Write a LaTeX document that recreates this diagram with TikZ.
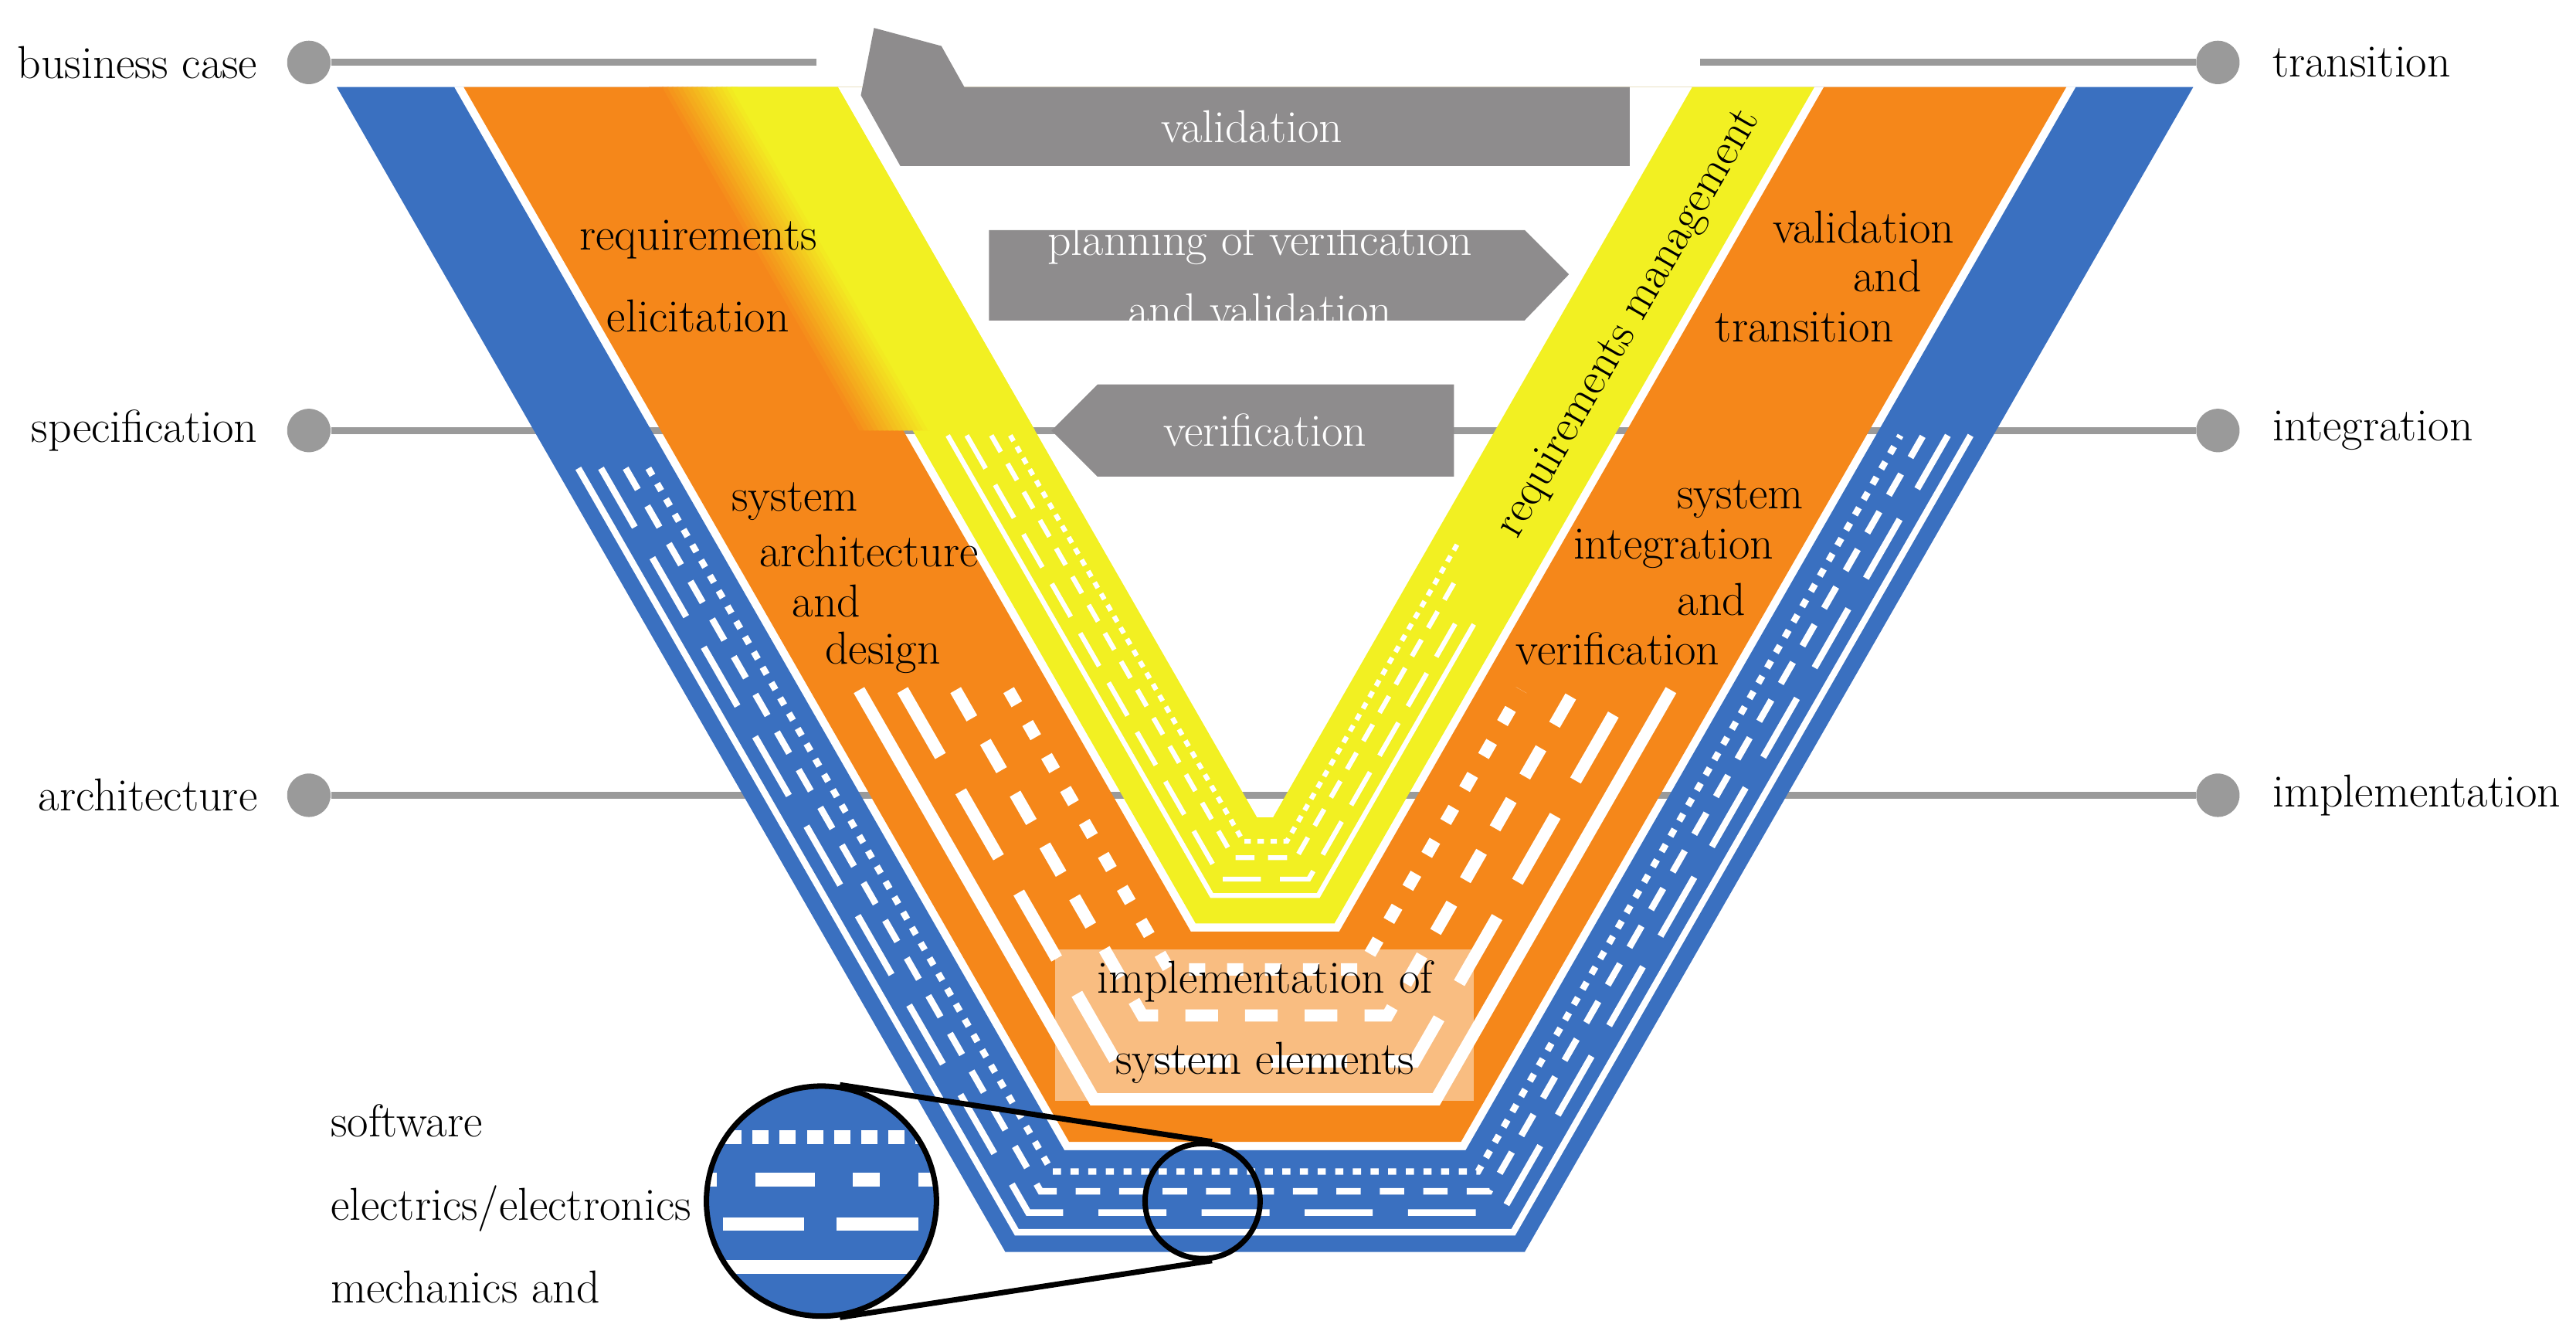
\documentclass[tikz,border=0pt]{standalone}
\begin{document}
\definecolor{vblue}{HTML}{3A70C0}
\definecolor{vorange}{HTML}{F5871A}
\definecolor{vyellow}{HTML}{F2F022}
\definecolor{vgray}{HTML}{8E8C8D}
\definecolor{lgray}{HTML}{9A9A9A}
\newcommand\Vco[2]{%
 \pgfmathsetmacro\xL{205+1.153*#2}\pgfmathsetmacro\xb{\xL+0.574*(709-#2)}\pgfmathsetmacro\yb{762-#2}%
 \coordinate (#1-1) at (\xL,53);\coordinate (#1-2) at (\xb,\yb);
 \coordinate (#1-3) at ({1540-\xb},\yb);\coordinate (#1-4) at ({1540-\xL},53);}
\newcommand\Vln[4]{%
 \pgfmathsetmacro\xL{205+1.153*#2}\pgfmathsetmacro\xa{\xL+0.574*(#3-53)}%
 \pgfmathsetmacro\xr{1540-\xL-0.574*(#4-53)}\pgfmathsetmacro\xb{\xL+0.574*(709-#2)}\pgfmathsetmacro\yb{762-#2}%
 \draw[#1] (\xa,#3) -- (\xb,\yb) -- ({1540-\xb},\yb) -- (\xr,#4);}
\begin{tikzpicture}[x=0.02127cm,y=-0.02127cm,line join=miter,
  lbl/.style={font=\fontsize{17}{18.2}\selectfont,inner sep=0pt},
  arr/.style={fill=vgray},
  wl/.style={white,line width=2.4pt},
  wo/.style={white,line width=4.5pt},
  wy/.style={white,line width=1.8pt},
  dot/.style={circle,fill=lgray,minimum size=16pt,inner sep=0pt}]
\useasboundingbox (0,0) rectangle (1568,814);
% gray levels
\node[dot] (l1) at (188,38) {}; \node[dot] (r1) at (1350,38) {};
\node[dot] (l2) at (188,262) {}; \node[dot] (r2) at (1350,262) {};
\node[dot] (l3) at (188,484) {}; \node[dot] (r3) at (1350,484) {};
\coordinate (t1) at (497,38); \coordinate (t2) at (1035,38);
\draw[lgray,line width=2.6pt] (l1) -- (t1) (t2) -- (r1) (l2) -- (r2) (l3) -- (r3);
% bands
\Vco{a}{0}\Vco{b}{62}\Vco{c}{67}\Vco{d}{195}\Vco{e}{200}\Vco{f}{264.5}
\fill[vblue,even odd rule] (a-1)--(a-2)--(a-3)--(a-4)--cycle (b-1)--(b-2)--(b-3)--(b-4)--cycle;
\fill[vorange,even odd rule] (c-1)--(c-2)--(c-3)--(c-4)--cycle (d-1)--(d-2)--(d-3)--(d-4)--cycle;
\fill[vyellow,even odd rule] (e-1)--(e-2)--(e-3)--(e-4)--cycle (f-1)--(f-2)--(f-3)--(f-4)--cycle;
% gradient top-left
\fill[vorange] (395,53)--(400,53)--(520,262)--(515,262)--cycle;
\foreach \i in {0,...,15}{
  \pgfmathtruncatemacro\p{100-100*\i/15}
  \fill[vorange!\p!vyellow] ({400+3*\i},53)--({404+3*\i},53)--({524+3*\i},262)--({520+3*\i},262)--cycle;}
\fill[vyellow] (445,53)--(510,53)--(630,262)--(565,262)--cycle;
% blue lines
\Vln{wl}{12}{285}{265}
\Vln{wl,dash pattern=on 25pt off 13pt}{24}{285}{265}
\Vln{wl,dash pattern=on 9pt off 7pt}{37}{285}{265}
\Vln{wl,dash pattern=on 3pt off 3.5pt}{49}{285}{265}
% orange lines
\Vln{wo}{93}{420}{420}
\Vln{wo,dash pattern=on 28pt off 15pt}{116}{420}{420}
\Vln{wo,dash pattern=on 12pt off 10pt}{144}{420}{420}
\Vln{wo,dash pattern=on 6pt off 8pt}{172}{420}{420}
% yellow lines
\Vln{wy}{217}{265}{380}
\Vln{wy,dash pattern=on 14pt off 7pt}{227}{265}{370}
\Vln{wy,dash pattern=on 7pt off 5pt}{240}{265}{350}
\Vln{wy,dash pattern=on 2.4pt off 2.4pt}{250}{265}{330}
% implementation box
\fill[white,opacity=0.45] (642,578) rectangle (897,670);
\node[lbl,align=center,font=\fontsize{17}{30}\selectfont] (impl) at (770,622) {implementation of\\system elements};
% arrows
\fill[arr] (532,17)--(573,28)--(587,53)--(992,53)--(992,101)--(548,101)--(524,58)--cycle;
\node[lbl,text=white] (val) at (762,77) {validation};
\fill[arr] (602,140)--(928,140)--(955,167)--(928,195)--(602,195)--cycle;
\node[lbl,text=white,align=center,font=\fontsize{17}{26}\selectfont] (plan) at (767,167) {planning of verification\\and validation};
\fill[arr] (885,234)--(885,290)--(668,290)--(640,262)--(668,234)--cycle;
\node[lbl,text=white] (ver) at (770,262) {verification};
% side labels
\node[lbl,anchor=east] at (157,38) {business case};
\node[lbl,anchor=east] at (157,262) {specification};
\node[lbl,anchor=east] at (157,484) {architecture};
\node[lbl,anchor=west] at (1383,38) {transition};
\node[lbl,anchor=west] at (1383,262) {integration};
\node[lbl,anchor=west] at (1383,484) {implementation};
% band labels
\node[lbl,align=center,font=\fontsize{17}{30}\selectfont] at (425,168) {requirements\\elicitation};
\node[lbl,anchor=west] at (445,305) {system};
\node[lbl,anchor=west] at (462,335) {architecture};
\node[lbl,anchor=west] at (482,366) {and};
\node[lbl,anchor=west] at (502,397) {design};
\node[lbl,anchor=east] at (1190,138) {validation};
\node[lbl,anchor=east] at (1170,168) {and};
\node[lbl,anchor=east] at (1153,199) {transition};
\node[lbl,anchor=east] at (1098,304) {system};
\node[lbl,anchor=east] at (1080,334) {integration};
\node[lbl,anchor=east] at (1063,365) {and};
\node[lbl,anchor=east] at (1047,395) {verification};
\node[lbl,rotate=60.1] at (992,197) {requirements management};
\node[lbl,align=left,anchor=north west,font=\fontsize{17}{30.5}\selectfont] at (201,672) {software\\electrics/electronics\\mechanics and\\other disciplines};
% magnifier
\begin{scope}
\clip (500,731) circle (70);
\fill[vblue] (430,661) rectangle (570,801);
\draw[white,line width=5pt,dash pattern=on 6pt off 4pt] (425,692) -- (575,692);
\draw[white,line width=5pt,dash pattern=on 10pt off 14pt on 22pt off 14pt] (420,718) -- (575,718);
\draw[white,line width=5pt,dash pattern=on 30pt off 12pt] (440,745) -- (580,745);
\draw[white,line width=5pt] (425,771) -- (575,771);
\end{scope}
\node[circle,draw=black,line width=2pt,minimum size=140*0.02127cm,inner sep=0pt] (big) at (500,731) {};
\node[circle,draw=black,line width=2pt,minimum size=70*0.02127cm,inner sep=0pt] (small) at (732,731) {};
\draw[black,line width=2pt] (big.81.3) -- (small.81.3) (big.-81.3) -- (small.-81.3);
\end{tikzpicture}
\end{document}
